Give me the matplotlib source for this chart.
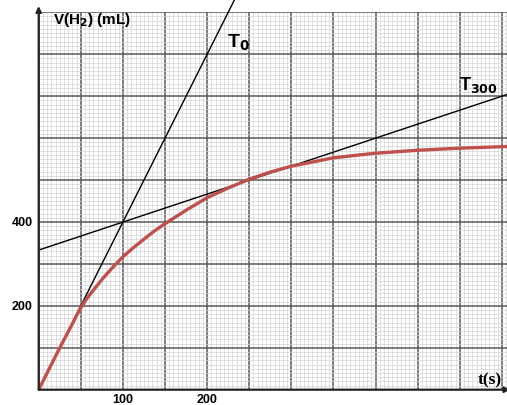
import numpy as np
import matplotlib
matplotlib.use('Agg')
import matplotlib.pyplot as plt
from matplotlib.ticker import MultipleLocator

# courbe V(H2)
t_curve = [0, 10, 20, 30, 40, 45, 50, 55, 60, 66, 76, 88, 100, 112, 125, 137, 150, 175,
           200, 225, 250, 275, 300, 350, 400, 450, 500, 556]
v_curve = [0, 40, 80, 119, 157, 177, 195, 211, 225, 240, 265, 292, 317, 338, 359, 378, 396, 428,
           458, 481, 502, 519, 533, 553, 564, 571, 576, 580]

# tangentes
t_T0 = [0, 233]
v_T0 = [0, 932]
t_T300 = [0, 556]
v_T300 = [333, 704]

x_ticks = [100, 200]
y_ticks = [200, 400]

fig = plt.figure(figsize=(5.07, 4.06), dpi=100)
ax = fig.add_axes([38.7/507, 15.3/406, 468.3/507, (390.7 - 13.3)/406])
ax.set_xlim(0, 556)
ax.set_ylim(0, 900)

# papier millimetre
ax.xaxis.set_major_locator(MultipleLocator(50))
ax.yaxis.set_major_locator(MultipleLocator(100))
ax.xaxis.set_minor_locator(MultipleLocator(5))
ax.yaxis.set_minor_locator(MultipleLocator(10))
ax.grid(which='minor', color='#d4d4d4', lw=0.5)
ax.grid(which='major', color='#585858', lw=1.1)
ax.set_axisbelow(True)
ax.tick_params(which='both', length=0)
ax.set_xticklabels([])
ax.set_yticklabels([])
for s in ax.spines.values():
    s.set_visible(False)

lab = dict(fontsize=9, fontweight='bold', family='Liberation Sans')
for x in x_ticks:
    ax.text(x, -8, str(x), ha='center', va='top', **lab)
for y in y_ticks:
    ax.text(-7, y, str(y), ha='right', va='center', **lab)

# axes avec fleches
ax.annotate('', xy=(0, 915), xytext=(0, 0), xycoords='data',
            arrowprops=dict(arrowstyle='-|>', color='#222222', lw=1.6,
                            mutation_scale=8, shrinkA=0, shrinkB=0),
            annotation_clip=False)
ax.annotate('', xy=(560, 0), xytext=(0, 0), xycoords='data',
            arrowprops=dict(arrowstyle='-|>', color='#222222', lw=1.6,
                            mutation_scale=8, shrinkA=0, shrinkB=0),
            annotation_clip=False)

ax.plot(t_T0, v_T0, color='black', lw=1.0, clip_on=False)
ax.plot(t_T300, v_T300, color='black', lw=1.0)
ax.plot(t_curve, v_curve, color='#c0504d', lw=2.4, solid_capstyle='round',
        solid_joinstyle='round')

ax.text(17, 874, r'V(H$_\mathbf{2}$) (mL)', fontsize=11, fontweight='bold',
        family='Liberation Sans', va='baseline', ha='left')
ax.text(224, 818, r'T$_\mathbf{0}$', fontsize=14, fontweight='bold',
        family='Liberation Sans', va='baseline', ha='left')
ax.text(499, 718, r'T$_\mathbf{300}$', fontsize=13, fontweight='bold',
        family='Liberation Sans', va='baseline', ha='left')
ax.text(521, 15, 't(s)', fontsize=12.5, fontweight='bold',
        family='Liberation Serif', va='baseline', ha='left')

fig.savefig('out.png', dpi=100)
